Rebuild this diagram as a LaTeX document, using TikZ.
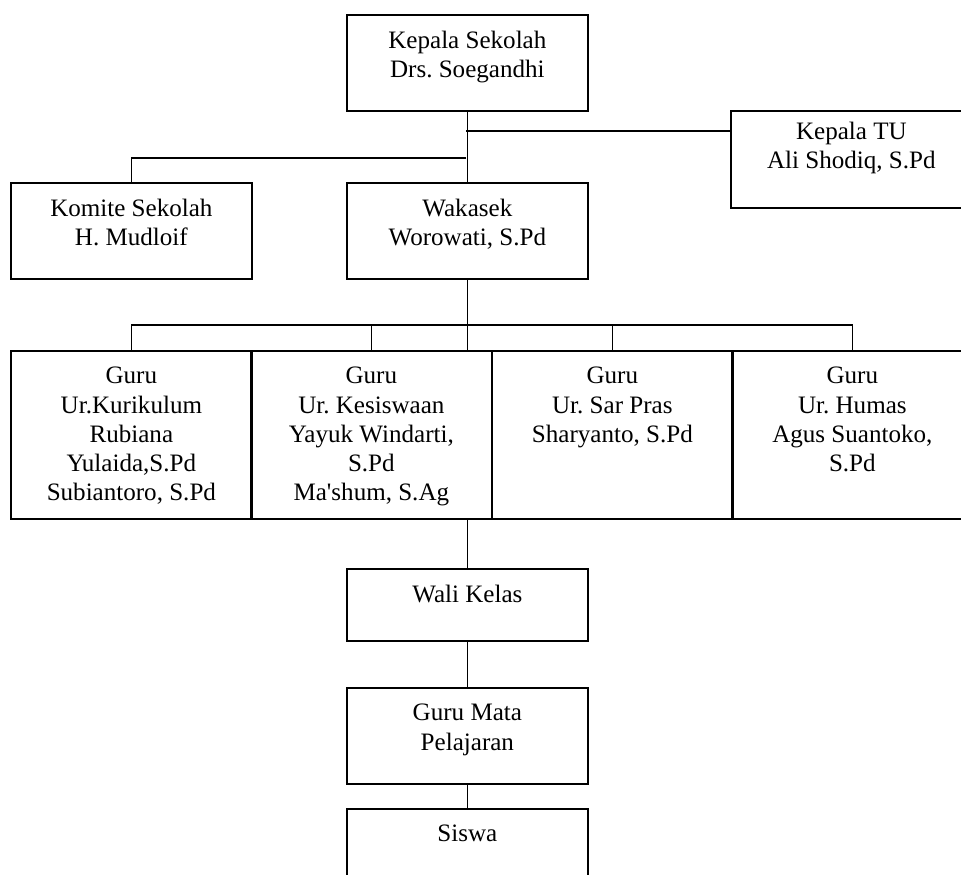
\documentclass[tikz,border=0pt]{standalone}
\usepackage{fontspec}
\setmainfont{Liberation Serif}

\tikzset{
    kotak/.style={draw, line width=1.3pt, anchor=north west, minimum width=180.75pt, inner sep=0pt},
    isi/.style={anchor=north, yshift=-12.8pt, align=center, inner sep=0pt, font=\fontsize{18.8}{21.8}\selectfont\frenchspacing},
    garis/.style={line width=1.3pt}
}

\begin{document}
\begin{tikzpicture}[x=0.75pt, y=-0.75pt]
    \useasboundingbox (0,0) rectangle (961,875);
    \node[kotak, minimum height=72pt, label={[isi]north:{Kepala Sekolah\\Drs. Soegandhi}}] (ks) at (346,14) {};
    \node[kotak, minimum height=72.75pt, label={[isi, yshift=4pt]north:{Kepala TU\\Ali Shodiq, S.Pd}}] (tu) at (730,110) {};
    \node[kotak, minimum height=72pt, label={[isi]north:{Komite Sekolah\\H. Mudloif}}] (km) at (10,182) {};
    \node[kotak, minimum height=72pt, label={[isi]north:{Wakasek\\Worowati, S.Pd}}] (wk) at (346,182) {};
    \node[kotak, minimum height=126pt, label={[isi]north:{Guru\\Ur.Kurikulum\\Rubiana\\Yulaida,S.Pd\\Subiantoro, S.Pd}}] (g1) at (10,350) {};
    \node[kotak, minimum height=126pt, label={[isi]north:{Guru\\Ur. Kesiswaan\\Yayuk Windarti,\\S.Pd\\Ma\textquotesingle shum, S.Ag}}] (g2) at (250,350) {};
    \node[kotak, minimum height=126pt, label={[isi]north:{Guru\\Ur. Sar Pras\\Sharyanto, S.Pd}}] (g3) at (491,350) {};
    \node[kotak, minimum height=126pt, label={[isi]north:{Guru\\Ur. Humas\\Agus Suantoko,\\S.Pd}}] (g4) at (731,350) {};
    \node[kotak, minimum height=54pt, label={[isi]north:{Wali Kelas}}] (wl) at (346,568) {};
    \node[kotak, minimum height=72pt, label={[isi]north:{Guru Mata\\Pelajaran}}] (gm) at (346,687) {};
    \node[kotak, minimum height=72pt, label={[isi]north:{Siswa}}] (sw) at (346,808) {};

    \coordinate (jTU) at (466,131);
    \coordinate (jKomite) at (466,158);
    \coordinate (bus) at (466,325);

    \draw[garis] (ks.south) -- (wk.north);
    \draw[garis] (jTU) -- (jTU -| tu.west);
    \draw[garis] (jKomite) -| (km.north);
    \draw[garis] (wk.south) -- (wk.south |- g1.north);
    \draw[garis] (g1.north) |- (bus);
    \draw[garis] (g4.north) |- (bus);
    \draw[garis] (g2.north) -- (g2.north |- bus);
    \draw[garis] (g3.north) -- (g3.north |- bus);
    \draw[garis] (wl.north) -- (wl.north |- g2.south);
    \draw[garis] (wl.south) -- (gm.north);
    \draw[garis] (gm.south) -- (sw.north);
\end{tikzpicture}
\end{document}
